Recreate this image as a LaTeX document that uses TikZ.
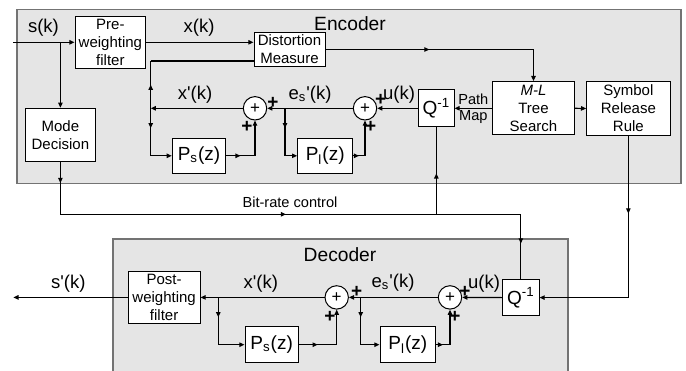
\documentclass[tikz,border=0pt]{standalone}
\usepackage{fontspec}
\setmainfont{Liberation Sans}
\usetikzlibrary{arrows.meta,decorations.markings}
\newcommand\myprime{\textquotesingle}
\begin{document}
\begin{tikzpicture}[x=0.5pt,y=-0.5pt,
  blk/.style={draw=black,line width=0.5pt,fill=white,inner sep=0pt,align=center,font=\fontsize{7.5}{9}\selectfont},
  bigblk/.style={blk,font=\fontsize{9.5}{11}\selectfont},
  lbl/.style={inner sep=0pt,font=\fontsize{9.25}{11}\selectfont},
  ttl/.style={inner sep=0pt,font=\fontsize{9.6}{11}\selectfont},
  sm/.style={inner sep=0pt,font=\fontsize{7.3}{8.6}\selectfont},
  pl/.style={inner sep=0pt,font=\bfseries\fontsize{9.5}{9.5}\selectfont},
  sum/.style={circle,draw=black,line width=0.5pt,fill=white,minimum size=11.7pt,inner sep=0pt,font=\fontsize{8.5}{8.5}\selectfont},
  ln/.style={line width=0.6pt,draw=black},
  arr/.style={ln,-{Triangle[length=2.6pt,width=2.2pt]}},
  marr/.style={ln,decoration={markings,mark=at position #1 with {\arrow{Triangle[length=2.6pt,width=2.2pt]}}},postaction=decorate},
  marr/.default=0.5,
  frame/.style={draw=black!55,line width=0.8pt,fill=black!10}]
\useasboundingbox (0,0) rectangle (686,370);
% frames
\draw[frame] (17,9.5) rectangle (680.7,183.3);
\fill[black!10] (112.7,239) rectangle (567.7,371);
\draw[draw=black!55,line width=0.8pt] (112.7,371) -- (112.7,239) -- (567.7,239) -- (567.7,371);
\node[ttl] (enctitle) at (350,24) {Encoder};
\node[ttl] (dectitle) at (340,255) {Decoder};

% encoder blocks
\node[blk,minimum width=35.35pt,minimum height=26.15pt] (pre) at (110.4,42.3) {Pre-\\weighting\\filter};
\node[blk,minimum width=35.35pt,minimum height=26.7pt] (mode) at (60.4,135) {Mode\\Decision};
\node[blk,minimum width=35.5pt,minimum height=17.2pt] (dist) at (289.5,49.5) {Distortion\\Measure};
\node[sum] (eadd1) at (255,108.3) {+};
\node[sum] (eadd2) at (365,108.3) {+};
\node[bigblk,minimum width=26.7pt,minimum height=17.5pt] (encPs) at (199,155.8) {P\textsubscript{s}(z)};
\node[bigblk,minimum width=27.5pt,minimum height=17.5pt] (encPl) at (325.2,155.8) {P\textsubscript{l}(z)};
\node[bigblk,minimum width=17.65pt,minimum height=18.35pt] (encQ) at (436.35,108.3) {Q\textsuperscript{-1}};
\node[blk,minimum width=40.8pt,minimum height=26.65pt] (ml) at (533.5,108.3) {\textit{M-L}\\Tree\\Search};
\node[blk,minimum width=41.65pt,minimum height=27pt] (srr) at (628.35,108.5) {Symbol\\Release\\Rule};

% decoder blocks
\node[blk,minimum width=35.85pt,minimum height=25.8pt] (post) at (164.15,297.4) {Post-\\weighting\\filter};
\node[sum] (dadd1) at (336.7,297.4) {+};
\node[sum] (dadd2) at (450,297.4) {+};
\node[bigblk,minimum width=26.65pt,minimum height=18pt] (decPs) at (271.65,344.7) {P\textsubscript{s}(z)};
\node[bigblk,minimum width=27.85pt,minimum height=18pt] (decPl) at (407.85,344.7) {P\textsubscript{l}(z)};
\node[bigblk,minimum width=18.15pt,minimum height=17.85pt] (decQ) at (520.85,297.6) {Q\textsuperscript{-1}};

% labels
\node[lbl] (lsk) at (43.5,28) {s(k)};
\node[lbl] (lxk) at (199,28) {x(k)};
\node[lbl] (lxpk) at (195,95) {x\myprime(k)};
\node[lbl] (lesk) at (310,95) {e\textsubscript{s}\myprime(k)};
\node[lbl] (luk) at (399,94.3) {u(k)};
\node[sm] (lpath) at (473.3,99) {Path};
\node[sm] (lmap) at (473.3,117.3) {Map};
\node[sm] (lbit) at (290,202.7) {Bit-rate control};
\node[lbl] (lspk) at (68.3,283.3) {s\myprime(k)};
\node[lbl] (ldxpk) at (260.8,283.3) {x\myprime(k)};
\node[lbl] (ldesk) at (393,283) {e\textsubscript{s}\myprime(k)};
\node[lbl] (lduk) at (484,283.3) {u(k)};
\node[pl] (p1) at (273,103) {+};
\node[pl] (p2) at (247,126.7) {+};
\node[pl] (p3) at (380.7,100) {+};
\node[pl] (p4) at (370.7,126.7) {+};
\node[pl] (p5) at (356.7,291.7) {+};
\node[pl] (p6) at (330,316.7) {+};
\node[pl] (p7) at (465,291.7) {+};
\node[pl] (p8) at (455,316.7) {+};

% encoder connectors
\coordinate (in) at (13,42.3);
\draw[arr] (in) -- (pre.west);
\coordinate (j1) at (mode.north |- in);
\draw[arr] (j1) -- (mode.north);
\draw[arr] (pre.east) -- (pre.east -| dist.west);
\coordinate (d1) at (ml.north |- dist.east);
\draw[marr] (dist.east) -- (d1);
\draw[arr] (d1) -- (ml.north);
\coordinate (jx) at (150.7,108.3);
\coordinate (jd) at (150.7,61);
\draw[arr] (eadd1.west) -- (jx);
\draw[marr] (jx) -- (jd);
\draw[ln] (jd) -- (jd -| dist.west);
\coordinate (jp) at (jx |- encPs);
\draw[marr=0.42] (jx) -- (jp);
\draw[arr] (jp) -- (encPs.west);
\coordinate (ps1) at (encPs.east -| eadd1);
\draw[marr] (encPs.east) -- (ps1);
\draw[arr] (ps1) -- (eadd1.south);
\draw[arr] (eadd2.west) -- (eadd1.east);
\coordinate (je) at (285,108.3);
\coordinate (jl) at (je |- encPl);
\draw[marr=0.42] (je) -- (jl);
\draw[arr] (jl) -- (encPl.west);
\coordinate (pl1) at (encPl.east -| eadd2);
\draw[marr] (encPl.east) -- (pl1);
\draw[arr] (pl1) -- (eadd2.south);
\draw[arr] (encQ.west) -- (eadd2.east);
\draw[arr] (ml.west) -- (encQ.east);
\draw[arr] (ml.east) -- (srr.west);

% between encoder and decoder
\coordinate (sd) at (srr.south |- decQ.east);
\draw[marr=0.48] (srr.south) -- (sd);
\draw[arr] (sd) -- (decQ.east);
\coordinate (m1) at (60.4,214.3);
\coordinate (m2) at (decQ.north |- m1);
\coordinate (m3) at (encQ.south |- m1);
\draw[marr=0.4] (mode.south) -- (m1);
\draw[marr=0.49] (m1) -- (m2);
\draw[marr=0.45] (m2) -- (decQ.north);
\draw[marr=0.47] (m3) -- (encQ.south);

% decoder connectors
\draw[arr] (decQ.west) -- (dadd2.east);
\coordinate (je2) at (360.7,297.4);
\coordinate (jl2) at (je2 |- decPl);
\draw[marr=0.42] (je2) -- (jl2);
\draw[arr] (jl2) -- (decPl.west);
\coordinate (pl2) at (decPl.east -| dadd2);
\draw[marr] (decPl.east) -- (pl2);
\draw[arr] (pl2) -- (dadd2.south);
\draw[arr] (dadd2.west) -- (dadd1.east);
\coordinate (ps2) at (decPs.east -| dadd1);
\draw[marr] (decPs.east) -- (ps2);
\draw[arr] (ps2) -- (dadd1.south);
\draw[arr] (dadd1.west) -- (post.east);
\coordinate (jx2) at (218.3,297.4);
\coordinate (jp2) at (jx2 |- decPs);
\draw[marr=0.42] (jx2) -- (jp2);
\draw[arr] (jp2) -- (decPs.west);
\coordinate (out) at (13.3,297.4);
\draw[arr] (post.west) -- (out);
\end{tikzpicture}
\end{document}
